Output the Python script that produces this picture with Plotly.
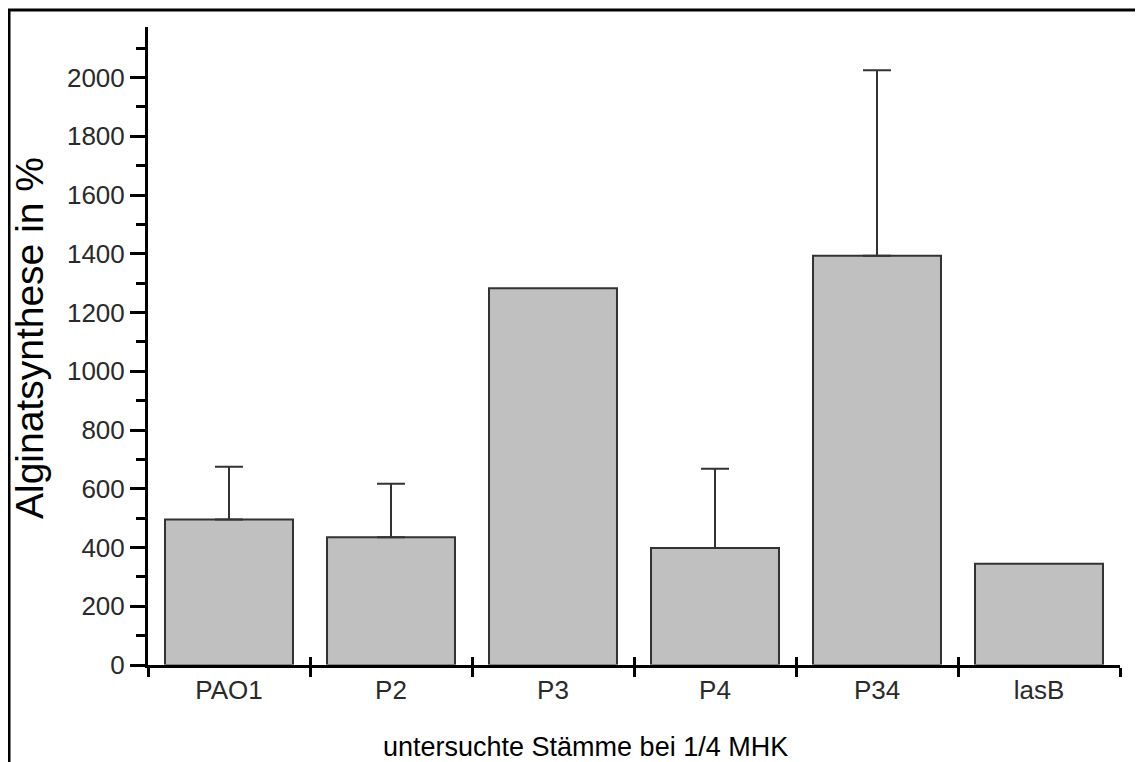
import plotly.graph_objects as go

strains = ["PAO1", "P2", "P3", "P4", "P34", "lasB"]
synthesis = [495, 435, 1283, 398, 1393, 345]
error_up = [180, 182, None, 270, 632, None]   # P3 and lasB: no error bar shown

y_tickvals = [0, 200, 400, 600, 800, 1000, 1200, 1400, 1600, 1800, 2000]

font_family = "Liberation Sans, Arial, sans-serif"

bar_marker = dict(color="#c0c0c0", line=dict(color="#333333", width=2))

with_err = [i for i, e in enumerate(error_up) if e is not None]
no_err = [i for i, e in enumerate(error_up) if e is None]

fig = go.Figure()
fig.add_trace(go.Bar(
    x=[strains[i] for i in with_err], y=[synthesis[i] for i in with_err],
    width=0.79, marker=bar_marker,
    error_y=dict(type="data", symmetric=False,
                 array=[error_up[i] for i in with_err],
                 arrayminus=[0] * len(with_err),
                 color="#333333", thickness=2, width=14),
    xaxis="x", yaxis="y",
))
fig.add_trace(go.Bar(
    x=[strains[i] for i in no_err], y=[synthesis[i] for i in no_err],
    width=0.79, marker=bar_marker,
    xaxis="x", yaxis="y",
))
# invisible helper trace so the secondary axis (upper halves of crossing ticks) is drawn
fig.add_trace(go.Bar(
    x=strains, y=[0] * len(strains), xaxis="x2", yaxis="y",
    marker=dict(color="rgba(0,0,0,0)"), hoverinfo="skip", showlegend=False,
))

fig.update_layout(
    width=1135, height=754,
    margin=dict(l=140, r=23, t=19, b=97),
    paper_bgcolor="white", plot_bgcolor="white",
    showlegend=False,
    barmode="overlay",
    font=dict(family=font_family, color="#2a2a2a"),
    xaxis=dict(
        type="category", categoryorder="array", categoryarray=strains,
        tickson="boundaries", ticks="outside", ticklen=9, tickwidth=3,
        tickcolor="black", showline=True, linecolor="black", linewidth=3,
        showgrid=False, zeroline=False,
        tickfont=dict(size=26, family=font_family, color="#2a2a2a"),
    ),
    xaxis2=dict(
        type="category", categoryorder="array", categoryarray=strains,
        overlaying="x", anchor="y", side="bottom",
        tickson="boundaries", ticks="inside", ticklen=8, tickwidth=3,
        tickcolor="black", showline=False, showgrid=False, zeroline=False,
        showticklabels=False,
    ),
    yaxis=dict(
        range=[0, 2172], tickvals=y_tickvals,
        ticks="outside", ticklen=15, tickwidth=3, tickcolor="black",
        minor=dict(dtick=100, ticks="outside", ticklen=9, tickwidth=3,
                   tickcolor="black", showgrid=False),
        showline=True, linecolor="black", linewidth=3,
        showgrid=False, zeroline=False,
        tickfont=dict(size=26, family=font_family, color="#2a2a2a"),
    ),
    annotations=[
        dict(text="Alginatsynthese in %", xref="paper", yref="paper",
             x=-0.1224, y=0.5125, textangle=-90, showarrow=False,
             xanchor="center", yanchor="middle",
             font=dict(size=39, family=font_family, color="black")),
        dict(text="untersuchte Stämme bei 1/4 MHK", xref="paper", yref="paper",
             x=0.4506, y=-0.1285, showarrow=False,
             xanchor="center", yanchor="middle",
             font=dict(size=27, family=font_family, color="black")),
    ],
    shapes=[
        dict(type="rect", xref="paper", yref="paper",
             x0=-0.143, x1=1.0175, y0=-0.2, y1=1.0266,
             line=dict(color="black", width=3), fillcolor="rgba(0,0,0,0)",
             layer="above"),
    ],
)

fig.write_html("out.html")
